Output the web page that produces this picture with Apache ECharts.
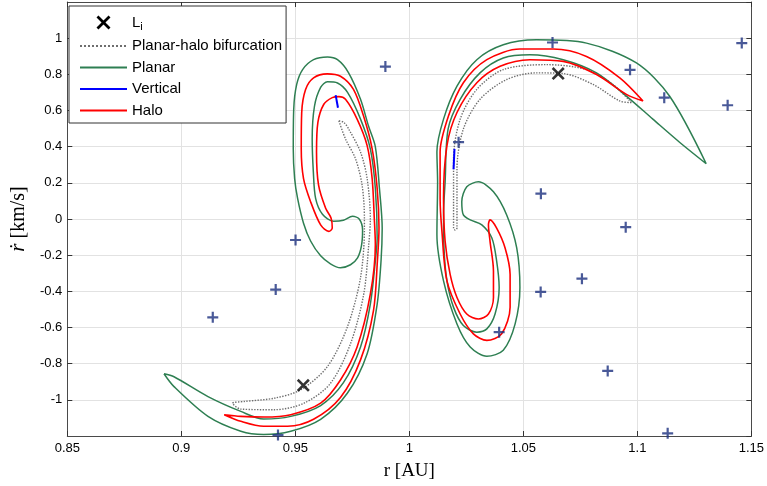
<!DOCTYPE html>
<html><head><meta charset="utf-8">
<script src="https://cdn.jsdelivr.net/npm/echarts@6/dist/echarts.min.js"></script>
<style>html,body{margin:0;padding:0;background:#fff}#c{width:767px;height:486px}</style>
</head><body><div id="c"></div><script>
// ---- data ----
const xTicks = [0.85, 0.9, 0.95, 1, 1.05, 1.1, 1.15];
const yTicks = [-1, -0.8, -0.6, -0.4, -0.2, 0, 0.2, 0.4, 0.6, 0.8, 1];

const lagrangePoints = [[0.9535, -0.92], [1.0653, 0.804]];

const plusPoints = [
  [0.9895, 0.843], [0.9138, -0.544], [0.9414, -0.39], [0.9501, -0.116], [0.9424, -1.195],
  [1.0216, 0.425], [1.0628, 0.976], [1.0577, 0.14], [1.0968, 0.825], [1.1118, 0.671],
  [1.1396, 0.629], [1.1458, 0.973], [1.0949, -0.045], [1.0757, -0.33], [1.0576, -0.403],
  [1.0394, -0.626], [1.087, -0.84], [1.1133, -1.185]
];

const planarLeft = [
  [0.8924,-0.8558],[0.8968,-0.9270],[0.9117,-1.0914],[0.9261,-1.1736],[0.9361,-1.1917],
  [0.9480,-1.1736],[0.9611,-1.1078],[0.9728,-0.9638],[0.9815,-0.7446],[0.9859,-0.4707],
  [0.9876,-0.2312],[0.9881,-0.0504],[0.9869,0.1688],[0.9851,0.3989],[0.9821,0.5139],
  [0.9786,0.6619],[0.9733,0.8098],[0.9685,0.8810],[0.9641,0.8958],[0.9580,0.8810],
  [0.9532,0.8262],[0.9506,0.7440],[0.9493,0.6071],[0.9491,0.3879],[0.9497,0.2235],
  [0.9510,0.1140],[0.9536,-0.0230],[0.9567,-0.1216],[0.9611,-0.2038],[0.9654,-0.2476],
  [0.9698,-0.2696],[0.9742,-0.2531],[0.9773,-0.2148],[0.9790,-0.1490],[0.9795,-0.0614],
  [0.9781,-0.0011],[0.9751,0.0153],[0.9711,-0.0066],[0.9668,-0.0121],[0.9619,0.0263],
  [0.9589,0.1140],[0.9579,0.2619],[0.9574,0.4427],[0.9584,0.6235],[0.9611,0.7276],
  [0.9641,0.7588],[0.9685,0.7523],[0.9729,0.7002],[0.9786,0.5523],[0.9829,0.3879],
  [0.9851,0.1688],[0.9859,-0.1052],[0.9851,-0.2312],[0.9829,-0.4707],[0.9786,-0.7079],
  [0.9711,-0.9050],[0.9611,-1.0314],[0.9480,-1.0914],[0.9361,-1.1062],[0.9261,-1.0640],
  [0.9117,-0.9818],[0.8968,-0.8723],[0.8924,-0.8558]
];

const planarRight = [
  [1.1302,0.3057],[1.1141,0.6799],[1.0996,0.8630],[1.0777,0.9725],[1.0558,0.9906],
  [1.0412,0.9632],[1.0296,0.8810],[1.0209,0.7347],[1.0150,0.5523],[1.0121,0.3715],
  [1.0124,0.2055],[1.0121,-0.0871],[1.0150,-0.3424],[1.0209,-0.5802],[1.0267,-0.7079],
  [1.0340,-0.7588],[1.0412,-0.7260],[1.0464,-0.5802],[1.0485,-0.3791],[1.0471,-0.1600],
  [1.0427,0.0225],[1.0369,0.1507],[1.0303,0.2055],[1.0252,0.1781],[1.0230,0.0959],
  [1.0237,0.0225],[1.0267,-0.0049],[1.0318,-0.0323],[1.0362,-0.1052],[1.0383,-0.2329],
  [1.0394,-0.3791],[1.0376,-0.5254],[1.0340,-0.6076],[1.0296,-0.6257],[1.0237,-0.5890],
  [1.0194,-0.4887],[1.0165,-0.3424],[1.0152,-0.1600],[1.0150,0.0225],[1.0157,0.2055],
  [1.0170,0.4975],[1.0223,0.6619],[1.0310,0.8081],[1.0412,0.8903],[1.0529,0.9084],
  [1.0675,0.8810],[1.0821,0.8081],[1.0952,0.6799],[1.1068,0.5523],[1.1185,0.4246],
  [1.1302,0.3057]
];

const haloLeft = [
  [0.9188,-1.0821],[0.9261,-1.1188],[0.9361,-1.1462],[0.9466,-1.1462],[0.9580,-1.1078],
  [0.9698,-0.9873],[0.9786,-0.7791],[0.9843,-0.5052],[0.9860,-0.2312],[0.9867,-0.0504],
  [0.9859,0.1688],[0.9837,0.3879],[0.9799,0.5704],[0.9755,0.7167],[0.9698,0.7895],
  [0.9640,0.8027],[0.9580,0.7808],[0.9545,0.7167],[0.9528,0.5890],[0.9526,0.3879],
  [0.9536,0.2235],[0.9567,0.0959],[0.9611,-0.0323],[0.9647,-0.0685],[0.9662,-0.0504],
  [0.9657,0.0044],[0.9633,0.0592],[0.9602,0.1868],[0.9593,0.3698],[0.9599,0.5342],
  [0.9625,0.6345],[0.9662,0.6712],[0.9691,0.6767],[0.9720,0.6619],[0.9771,0.5523],
  [0.9815,0.4060],[0.9837,0.2235],[0.9847,-0.0137],[0.9851,-0.1419],[0.9829,-0.4159],
  [0.9771,-0.7079],[0.9698,-0.8903],[0.9611,-1.0186],[0.9480,-1.0821],[0.9363,-1.0952],
  [0.9261,-1.0914],[0.9188,-1.0821]
];

const haloRight = [
  [1.1025,0.6526],[1.0923,0.7808],[1.0777,0.8991],[1.0631,0.9397],[1.0485,0.9397],
  [1.0340,0.8810],[1.0237,0.7534],[1.0172,0.5704],[1.0135,0.3698],[1.0135,0.1140],
  [1.0143,-0.0685],[1.0165,-0.3424],[1.0223,-0.5254],[1.0281,-0.6350],[1.0340,-0.6712],
  [1.0405,-0.6350],[1.0442,-0.4887],[1.0442,-0.3063],[1.0420,-0.1600],[1.0383,-0.0504],
  [1.0354,-0.0049],[1.0347,-0.0323],[1.0354,-0.1233],[1.0369,-0.2876],[1.0369,-0.4339],
  [1.0347,-0.5254],[1.0303,-0.5528],[1.0252,-0.5254],[1.0209,-0.4339],[1.0179,-0.3063],
  [1.0157,-0.1233],[1.0150,0.1140],[1.0165,0.4060],[1.0209,0.5890],[1.0296,0.7534],
  [1.0398,0.8443],[1.0529,0.8810],[1.0675,0.8717],[1.0821,0.7988],[1.0952,0.6893],
  [1.1025,0.6526]
];

const bifurcationLeft = [
  [0.9691,0.5430],[0.9720,0.4427],[0.9764,0.3331],[0.9793,0.1868],[0.9803,0.0044],
  [0.9803,-0.0504],[0.9786,-0.3244],[0.9728,-0.5983],[0.9640,-0.8175],[0.9523,-0.9451],
  [0.9407,-0.9911],[0.9275,-1.0092],[0.9225,-1.0186],[0.9261,-1.0514],[0.9407,-1.0547],
  [0.9538,-1.0186],[0.9654,-0.9090],[0.9742,-0.6898],[0.9800,-0.4159],[0.9822,-0.1419],
  [0.9829,0.0044],[0.9815,0.2235],[0.9786,0.3698],[0.9734,0.4975],[0.9713,0.5342],
  [0.9691,0.5430]
];

const bifurcationRight = [
  [1.0974,0.6438],[1.0893,0.7440],[1.0777,0.8262],[1.0602,0.8536],[1.0412,0.8262],
  [1.0296,0.7167],[1.0223,0.5523],[1.0194,0.3331],[1.0194,-0.0504],[1.0201,-0.0614],
  [1.0209,-0.0504],[1.0209,0.2783],[1.0237,0.4975],[1.0310,0.6619],[1.0427,0.7714],
  [1.0558,0.8081],[1.0675,0.8043],[1.0806,0.7440],[1.0923,0.6526],[1.0974,0.6438]
];

const verticalLeft = [[0.9677, 0.685], [0.9687, 0.615]];
const verticalRight = [[1.0198, 0.388], [1.0194, 0.275]];

// ---- chart ----
const X_PATH = 'path://M0,1.4L1.4,0L5,3.6L8.6,0L10,1.4L6.4,5L10,8.6L8.6,10L5,6.4L1.4,10L0,8.6L3.6,5Z';
const PLUS_PATH = 'path://M4,0H6V4H10V6H6V10H4V6H0V4H4Z';
const GREEN = '#2e7f52', RED = '#ff0000', BLUE = '#0000ff', GRAY = '#6e6e6e', NAVY = '#1c2f7e';
const SANS = 'Liberation Sans, Arial, sans-serif';
const SERIF = 'Liberation Serif, DejaVu Serif, serif';

function lineSeries(name, data, color, width, type) {
  return {
    name: name, type: 'line', data: data, symbol: 'none', smooth: 0.3,
    lineStyle: { color: color, width: width, type: type || 'solid' },
    itemStyle: { color: color }, clip: true, silent: true
  };
}

const axisCommon = {
  axisLine: { show: true, onZero: false, lineStyle: { color: '#4a4a4a', width: 1 } },
  axisTick: { show: true, inside: true, length: 5, lineStyle: { color: '#333' } }
};

const chart = echarts.init(document.getElementById('c'), null, { renderer: 'canvas' });
chart.setOption({
  animation: false,
  backgroundColor: '#fff',
  grid: { left: 65, right: 15, top: 2, bottom: 46, containLabel: false },
  legend: {
    orient: 'vertical', left: 69, top: 6,
    padding: [9, 4, 5, 10], itemGap: 6.5, itemWidth: 47, itemHeight: 14,
    backgroundColor: '#fff', borderColor: '#333', borderWidth: 1, borderRadius: 0,
    itemStyle: { opacity: 0 },
    textStyle: {
      fontFamily: SANS, fontSize: 15, color: '#000',
      rich: { l: { fontFamily: SANS, fontSize: 15, color: '#000' },
              s: { fontFamily: SANS, fontSize: 11, color: '#000', padding: [8, 0, 0, 0] } }
    },
    itemTextGap: 6, selectedMode: false,
    formatter: function (n) { return n === 'Li' ? '{l|L}{s|i}' : n; },
    data: [{ name: 'Li', icon: X_PATH, itemStyle: { opacity: 1, color: '#000' } },
      'Planar-halo bifurcation', 'Planar', 'Vertical', 'Halo']
  },
  xAxis: [
    Object.assign({
      type: 'value', min: xTicks[0], max: xTicks[xTicks.length - 1], interval: 0.05,
      name: 'r [AU]', nameLocation: 'middle', nameGap: 26,
      nameTextStyle: { fontFamily: SERIF, fontSize: 19, color: '#000' },
      axisLabel: { fontFamily: SANS, fontSize: 13, color: '#000', margin: 6 },
      splitLine: { show: true, lineStyle: { color: '#e2e2e2', width: 1 } }
    }, axisCommon),
    Object.assign({
      type: 'value', position: 'top', min: xTicks[0], max: xTicks[xTicks.length - 1], interval: 0.05,
      axisLabel: { show: false }, splitLine: { show: false }
    }, axisCommon)
  ],
  yAxis: [
    Object.assign({
      type: 'value', min: -1.2, max: 1.2, interval: 0.2,
      name: '{i|ṙ} [km/s]', nameLocation: 'middle', nameGap: 36,
      nameTextStyle: { fontFamily: SERIF, fontSize: 20, color: '#000',
        rich: { i: { fontFamily: SERIF, fontSize: 21, fontStyle: 'italic', color: '#000' } } },
      axisLabel: { fontFamily: SANS, fontSize: 13, color: '#000', margin: 5,
        showMinLabel: false, showMaxLabel: false,
        formatter: function (v) { const r = Math.round(v * 10) / 10; return yTicks.indexOf(r) >= 0 ? String(r) : ''; } },
      splitLine: { show: true, lineStyle: { color: '#e2e2e2', width: 1 } }
    }, axisCommon),
    Object.assign({
      type: 'value', position: 'right', min: -1.2, max: 1.2, interval: 0.2,
      axisLabel: { show: false }, splitLine: { show: false }
    }, axisCommon)
  ],
  series: [
    lineSeries('Planar-halo bifurcation', bifurcationLeft, GRAY, 1.4, 'dotted'),
    lineSeries('Planar-halo bifurcation', bifurcationRight, GRAY, 1.4, 'dotted'),
    lineSeries('Planar', planarLeft, GREEN, 1.5),
    lineSeries('Planar', planarRight, GREEN, 1.5),
    lineSeries('Halo', haloLeft, RED, 1.6),
    lineSeries('Halo', haloRight, RED, 1.6),
    lineSeries('Vertical', verticalLeft, BLUE, 2),
    lineSeries('Vertical', verticalRight, BLUE, 2),
    { name: 'eq', type: 'scatter', data: plusPoints, symbol: PLUS_PATH, symbolSize: 11,
      itemStyle: { color: NAVY }, silent: true, clip: false, z: 5 },
    { name: 'Li', type: 'scatter', data: lagrangePoints, symbol: X_PATH, symbolSize: 13,
      symbolKeepAspect: true, itemStyle: { color: '#000' }, silent: true, clip: false, z: 6 }
  ]
});
</script></body></html>
